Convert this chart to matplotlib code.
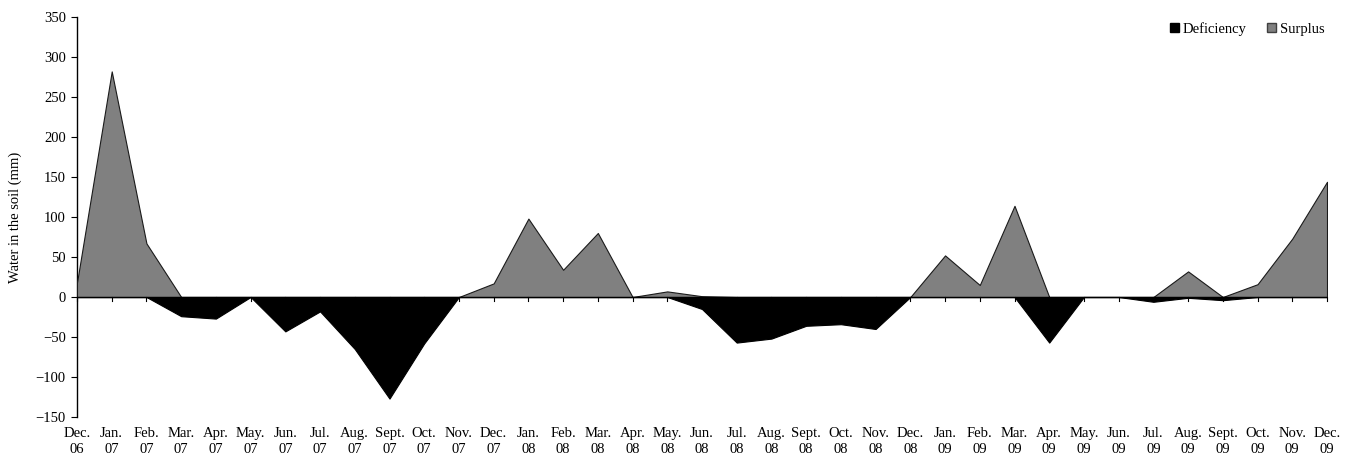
import matplotlib
matplotlib.use("Agg")
import matplotlib.pyplot as plt
from matplotlib.patches import Patch
import numpy as np

months = ["Dec.", "Jan.", "Feb.", "Mar.", "Apr.", "May.", "Jun.", "Jul.", "Aug.", "Sept.", "Oct.", "Nov.",
          "Dec.", "Jan.", "Feb.", "Mar.", "Apr.", "May.", "Jun.", "Jul.", "Aug.", "Sept.", "Oct.", "Nov.",
          "Dec.", "Jan.", "Feb.", "Mar.", "Apr.", "May.", "Jun.", "Jul.", "Aug.", "Sept.", "Oct.", "Nov.",
          "Dec."]
years = ["06"] + ["07"] * 12 + ["08"] * 12 + ["09"] * 12

surplus = [18, 282, 67, 0, 0, 0, 0, 0, 0, 0, 0, 0,
           17, 98, 34, 80, 0, 7, 1, 0, 0, 0, 0, 0,
           0, 52, 15, 114, 0, 0, 0, 0, 32, 0, 16, 73,
           144]
deficiency = [0, 0, 0, -24, -27, 0, -43, -18, -65, -127, -58, 0,
              0, 0, 0, 0, 0, 0, -15, -57, -52, -36, -34, -40,
              0, 0, 0, 0, -57, 0, 0, -6, -1, -4, 0, 0,
              0]

plt.rcParams["font.family"] = ["Liberation Serif", "DejaVu Serif"]

fig = plt.figure(figsize=(13.49, 4.57), dpi=100)
ax = fig.add_axes([77 / 1349, 40 / 457, 1250 / 1349, 400 / 457])

x = np.arange(len(months))
gray = "#808080"

ax.fill_between(x, 0, deficiency, facecolor="black", edgecolor="black", linewidth=0.8, zorder=2)
ax.fill_between(x, 0, surplus, facecolor=gray, edgecolor="#1a1a1a", linewidth=0.8, zorder=3)

ax.set_xlim(0, len(months) - 1)
ax.set_ylim(-150, 350)
ax.set_yticks(np.arange(-150, 351, 50))
ax.set_yticklabels([str(v).replace("-", "\u2212") for v in range(-150, 351, 50)], fontsize=10.5)

# horizontal category axis sits on zero, labels along the bottom
for side in ("top", "right", "bottom"):
    ax.spines[side].set_visible(False)
ax.spines["left"].set_linewidth(1.0)
ax.axhline(0, color="black", linewidth=1.0, zorder=4)
ax.set_xticks([])
for xi in x:
    ax.plot([xi, xi], [0, -5], color="black", linewidth=0.8, zorder=4, clip_on=False)
for xi, m, yr in zip(x, months, years):
    ax.text(xi, -162, f"{m}\n{yr}", ha="center", va="top", fontsize=10.5, linespacing=1.3)

ax.tick_params(axis="y", direction="out", length=4, width=0.8, pad=4)
ax.set_ylabel("Water in the soil (mm)", fontsize=10.5, labelpad=10)

handles = [Patch(facecolor="black", edgecolor="black", label="Deficiency"),
           Patch(facecolor=gray, edgecolor="#404040", label="Surplus")]
ax.legend(handles=handles, loc="upper right", ncol=2, frameon=False, fontsize=10.5,
          handlelength=0.6, handleheight=0.6, handletextpad=0.3, columnspacing=1.4,
          bbox_to_anchor=(1.009, 1.02))

fig.savefig("out.png", dpi=100)
